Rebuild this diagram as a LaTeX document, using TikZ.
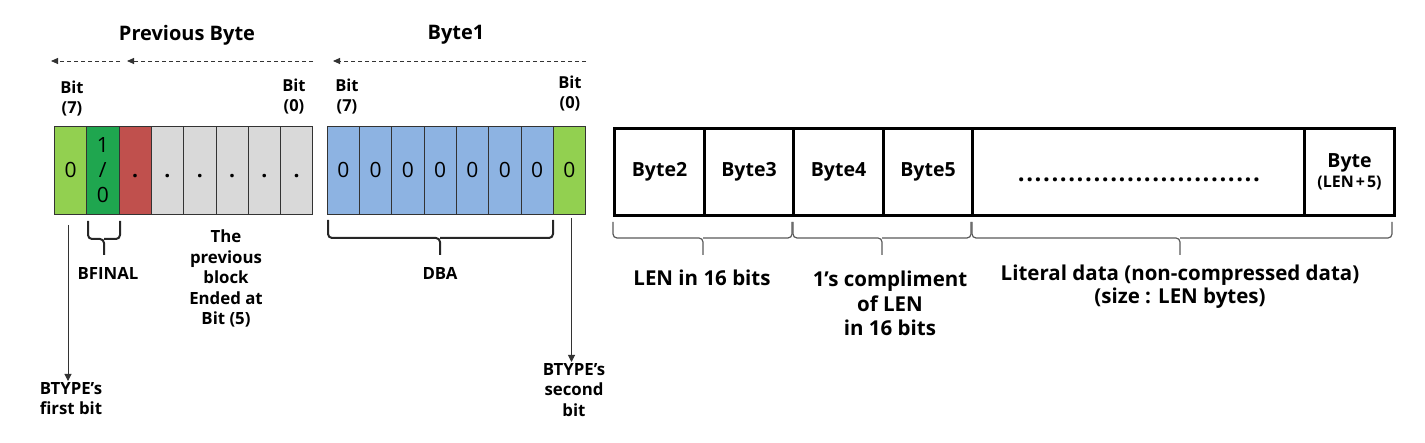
\documentclass[tikz,border=0pt]{standalone}
\usepackage{fontspec}
\setmainfont{Open Sans}
\usetikzlibrary{arrows.meta}
\definecolor{lgreen}{HTML}{92D050}
\definecolor{dgreen}{HTML}{1FA64F}
\definecolor{bred}{HTML}{C0504D}
\definecolor{cgrey}{HTML}{D9D9D9}
\definecolor{cblue}{HTML}{8DB3E2}
\definecolor{lnk}{HTML}{333333}
\begin{document}
\begin{tikzpicture}[x=1pt,y=-1pt,
  cell/.style={draw=black!80, line width=0.8pt, minimum width=32.3pt, minimum height=88pt,
    inner sep=0pt, anchor=north west, font=\fontsize{21}{25}\selectfont},
  celltext/.style={text height=15pt, text depth=0pt},
  bigcell/.style={draw=black, line width=3pt, minimum height=87pt, inner sep=0pt,
    anchor=north west, font=\fontsize{19.5}{22}\selectfont\bfseries},
  title/.style={font=\fontsize{20}{24}\selectfont\bfseries},
  bitlab/.style={font=\fontsize{16.5}{20}\selectfont\bfseries, align=center, inner sep=1pt},
  lab/.style={font=\fontsize{16.8}{20.5}\selectfont\bfseries, align=center, inner sep=1pt},
  rlab/.style={font=\fontsize{20.5}{24}\selectfont\bfseries, align=center, inner sep=1pt},
  dasharrow/.style={draw=lnk, line width=0.9pt, dash pattern=on 4pt off 3pt, -{Triangle[length=7pt,width=6pt]}},
  downarrow/.style={draw=lnk, line width=1pt, -{Triangle[length=7pt,width=7pt]}},
  bracel/.style={draw=black!85, line width=2pt, rounded corners=4pt},
  bracer/.style={draw=black!65, line width=1.2pt, rounded corners=4pt}
]
\useasboundingbox (0,0) rectangle (1425,443);

% titles
\node[title] (tprev) at (187,35) {Previous Byte};
\node[title] (tbyte1) at (456,35) {Byte1};

% dashed arrows
\coordinate (d1s) at (120,61); \coordinate (d1e) at (51,61);
\coordinate (d2s) at (313,61); \coordinate (d2e) at (127,61);
\coordinate (d3s) at (586,61); \coordinate (d3e) at (333,61);
\draw[dasharrow] (d1s) -- (d1e);
\draw[dasharrow] (d2s) -- (d2e);
\draw[dasharrow] (d3s) -- (d3e);

% bit labels
\node[bitlab] (pb7) at (72,99) {Bit\\(7)};
\node[bitlab] (pb0) at (294,97) {Bit\\(0)};
\node[bitlab] (bb7) at (347,97) {Bit\\(7)};
\node[bitlab] (bb0) at (570,94) {Bit\\(0)};

% previous byte cells
\node[cell, fill=lgreen, celltext] (p0) at (54,126) {0};
\node[cell, fill=dgreen, align=center] (p1) at ({54+32.3},126) {1\\/\\0};
\node[cell, fill=bred, celltext] (p2) at ({54+2*32.3},126) {\textbf{.}};
\foreach \i in {3,...,7}
  \node[cell, fill=cgrey, celltext] (p\i) at ({54+\i*32.3},126) {\textbf{.}};

% byte1 cells
\foreach \i in {0,...,6}
  \node[cell, fill=cblue, celltext] (b\i) at ({326.7+\i*32.3},126) {0};
\node[cell, fill=lgreen, celltext] (b7) at ({326.7+7*32.3},126) {0};

% braces (left)
\draw[bracel] (88,221) |- (104,239) -- (104,255);
\draw[bracel] (120,221) |- (104,239);
\node[lab] (bfinal) at (108,273) {BFINAL};

\draw[bracel] (328,220) |- (440,238) -- (440,255);
\draw[bracel] (553,220) |- (440,238);
\node[lab] (dba) at (440,273) {DBA};

\node[lab] (prevblk) at (226,278.5) {The\\previous\\block\\Ended at\\Bit (5)};

% BTYPE arrows
\node[lab, anchor=north] (bt1) at (71,381) {BTYPE’s\\first bit};
\coordinate (a1s) at (68,225);
\draw[downarrow] (a1s) -- (a1s |- bt1.north);
\node[lab, anchor=north] (bt2) at (574,362) {BTYPE’s\\second\\bit};
\coordinate (a2s) at (571.5,218);
\draw[downarrow] (a2s) -- (a2s |- bt2.north);

% right block
\node[bigcell, minimum width=90pt] (r2) at (613,127) {Byte2};
\node[bigcell, minimum width=89pt] (r3) at (703,127) {Byte3};
\node[bigcell, minimum width=90pt] (r4) at (792,127) {Byte4};
\node[bigcell, minimum width=89pt] (r5) at (882,127) {Byte5};
\node[bigcell, minimum width=332pt] (rd) at (971,127) {};
\node[bigcell, minimum width=90pt, align=center] (rl) at (1303,127) {Byte\\[-2pt]{\fontsize{16}{18}\selectfont (LEN\hspace{2pt}+\hspace{2pt}5)}};
\node[font=\fontsize{24}{24}\selectfont\bfseries\addfontfeature{LetterSpace=6.5}, inner sep=0pt] (dots) at (1139,180) {.............................};

% braces (right)
\draw[bracer] (613,222) |- (703,238) -- (703,255);
\draw[bracer] (792,222) |- (703,238);
\draw[bracer] (793,222) |- (882,238) -- (882,255);
\draw[bracer] (971,222) |- (882,238);
\draw[bracer] (972,222) |- (1180,238) -- (1180,255);
\draw[bracer] (1392,222) |- (1180,238);

\node[rlab] (lenlab) at (702,278) {LEN in 16 bits};
\node[rlab] (nlenlab) at (890,303) {1’s compliment\\[1pt]of LEN\\in 16 bits};
\node[rlab] (litlab) at (1180,286.5) {Literal data (non-compressed data)\\[-1pt](size : LEN bytes)};
\end{tikzpicture}
\end{document}
